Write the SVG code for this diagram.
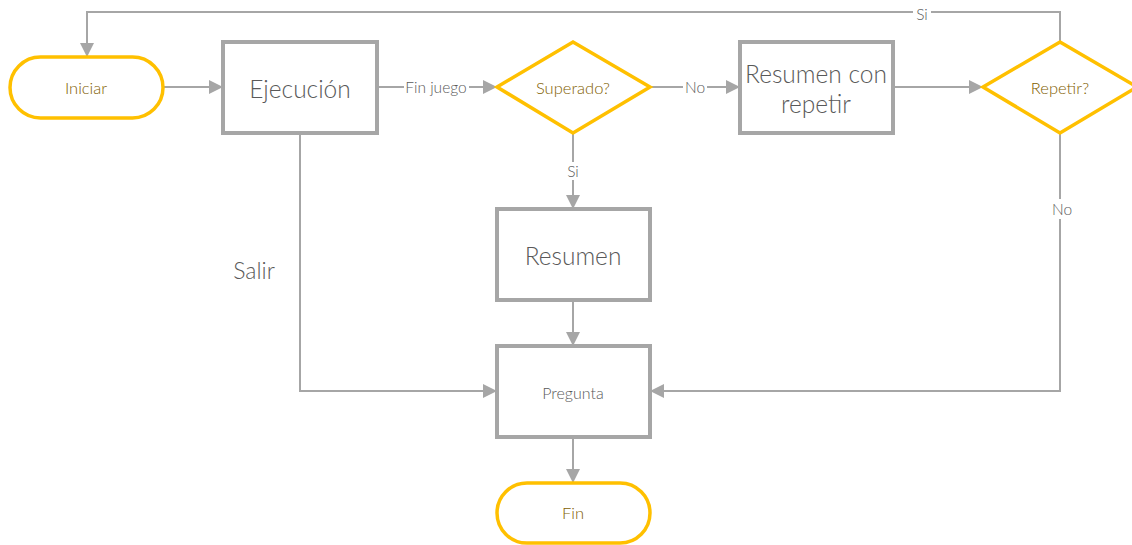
<svg xmlns="http://www.w3.org/2000/svg" width="1132" height="545" viewBox="0 0 1132 545">
  <style>
    .term { fill: #ffffff; stroke: #FFC000; stroke-width: 3.5; }
    .proc { fill: #ffffff; stroke: #A6A6A6; stroke-width: 4; }
    .dec { fill: #ffffff; stroke: #FFC000; stroke-width: 3.5; stroke-linejoin: miter; }
    .edge { fill: none; stroke: #A6A6A6; stroke-width: 2; }
    text { font-family: Lato, "Open Sans", "Liberation Sans", sans-serif; font-weight: 300; text-anchor: middle; dominant-baseline: central; }
    .gold { fill: #7F6000; font-size: 16.5px; }
    .big { fill: #595959; font-size: 24.5px; }
    .small { fill: #595959; font-size: 16px; }
    .lbl { fill: #595959; font-size: 15.5px; }
    .lblbg { fill: #ffffff; }
  </style>
  <defs>
    <marker id="arrow" markerUnits="userSpaceOnUse" markerWidth="14" markerHeight="14" viewBox="0 0 14 14" refX="13" refY="7" orient="auto">
      <path d="M0,0 L14,7 L0,14 Z" fill="#A6A6A6"/>
    </marker>
  </defs>

  <!-- connectors -->
  <g id="connectors">
    <path class="edge" d="M163,87 H222" marker-end="url(#arrow)"/>
    <path class="edge" d="M377,87 H496" marker-end="url(#arrow)"/>
    <path class="edge" d="M650,87 H739" marker-end="url(#arrow)"/>
    <path class="edge" d="M893,87 H982" marker-end="url(#arrow)"/>
    <path class="edge" d="M1060,42 V12 H87 V56" marker-end="url(#arrow)"/>
    <path class="edge" d="M1060,133 V391 H651" marker-end="url(#arrow)"/>
    <path class="edge" d="M573,133 V208" marker-end="url(#arrow)"/>
    <path class="edge" d="M573,300 V345" marker-end="url(#arrow)"/>
    <path class="edge" d="M300,133 V391 H496" marker-end="url(#arrow)"/>
    <path class="edge" d="M573,437 V482" marker-end="url(#arrow)"/>

    <rect class="lblbg" x="404" y="78" width="65" height="18"/>
    <text class="lbl" x="436" y="87">Fin juego</text>
    <rect class="lblbg" x="683" y="78" width="24" height="18"/>
    <text class="lbl" x="695" y="87">No</text>
    <rect class="lblbg" x="913" y="4" width="18" height="18"/>
    <text class="lbl" x="922" y="14">Si</text>
    <rect class="lblbg" x="564" y="162" width="18" height="18"/>
    <text class="lbl" x="573" y="171">Si</text>
    <rect class="lblbg" x="1049" y="199" width="26" height="20"/>
    <text class="lbl" x="1062" y="209">No</text>
  </g>

  <g id="iniciar">
    <rect class="term" x="10" y="57" width="153" height="61" rx="30.5"/>
    <text class="gold" x="86" y="88">Iniciar</text>
  </g>

  <g id="ejecucion">
    <rect class="proc" x="223" y="42" width="154" height="91"/>
    <text class="big" x="300" y="88">Ejecución</text>
  </g>

  <g id="superado">
    <polygon class="dec" points="573,42 650,87 573,133 497,87"/>
    <text class="gold" x="573" y="88">Superado?</text>
  </g>

  <g id="resumen-repetir">
    <rect class="proc" x="740" y="42" width="153" height="91"/>
    <text class="big" x="816" y="73">Resumen con</text>
    <text class="big" x="816" y="103">repetir</text>
  </g>

  <g id="repetir">
    <polygon class="dec" points="1060,42 1137,87 1060,133 983,87"/>
    <text class="gold" x="1060" y="88">Repetir?</text>
  </g>

  <g id="resumen">
    <rect class="proc" x="497" y="209" width="153" height="91"/>
    <text class="big" x="573" y="255">Resumen</text>
  </g>

  <g id="pregunta">
    <rect class="proc" x="497" y="346" width="153" height="91"/>
    <text class="small" x="573" y="392">Pregunta</text>
  </g>

  <g id="fin">
    <rect class="term" x="497" y="483" width="153" height="60" rx="30"/>
    <text class="gold" x="573" y="513">Fin</text>
  </g>

  <g id="salir">
    <text class="big" x="254" y="270" style="font-size:23px">Salir</text>
  </g>
</svg>
